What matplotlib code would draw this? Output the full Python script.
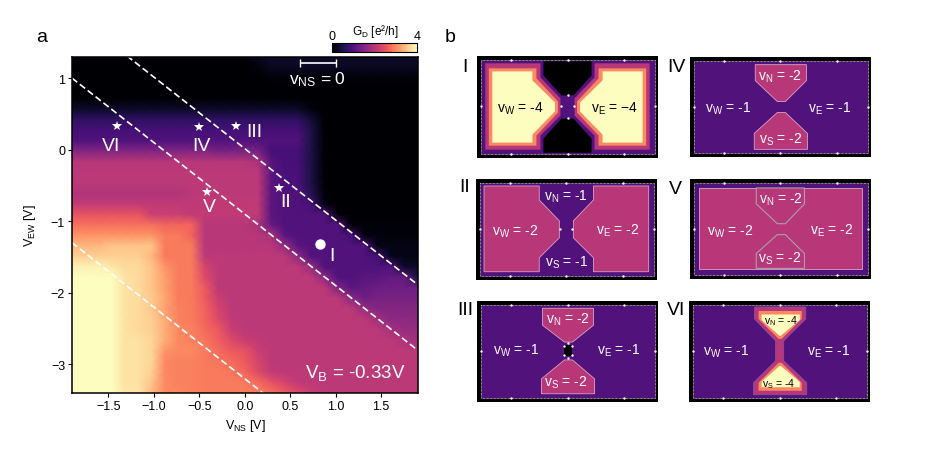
import matplotlib

matplotlib.use("Agg")
import matplotlib.pyplot as plt
import numpy as np

plt.rcParams["font.family"] = ["Liberation Sans", "DejaVu Sans"]
plt.rcParams["mathtext.fontset"] = "custom"
plt.rcParams["mathtext.rm"] = "Liberation Sans"
plt.rcParams["mathtext.default"] = "regular"

W, H = 927, 464

# conductance map (rows top to bottom, 27 columns)
v_ns = np.linspace(-1.9, 1.9, 27)
v_ew = np.linspace(1.3, -3.4, 33)
g_d = [
    [0.0] * 13 + [0.05, 0.2] + [0.3] * 12,
    [0.0] * 14 + [0.1] + [0.25] * 12,
    [0.0] * 15 + [0.05] * 12,
    [0.0] * 27,
    [0.02] * 18 + [0.0] * 9,
    [0.3] * 18 + [0.1] + [0.0] * 8,
    [0.7] * 18 + [0.4] + [0.0] * 8,
    [0.9] * 18 + [0.5] + [0.0] * 8,
    [1.0] * 18 + [0.5] + [0.0] * 8,
    [1.5] * 11 + [1.4] * 4 + [0.9] * 3 + [0.5] + [0.0] * 8,
    [2.0] * 14 + [1.9, 1.05, 0.9, 0.9, 0.5] + [0.0] * 8,
    [2.05] * 15 + [1.1, 0.95, 0.95, 0.5] + [0.0] * 8,
    [2.05] * 15 + [1.1, 0.95, 0.95, 0.5] + [0.0] * 8,
    [1.95] * 9 + [2.05] * 6 + [1.1, 1.0, 1.0, 0.6, 0.05] + [0.0] * 7,
    [2.1] * 15 + [1.1, 1.0, 1.0, 0.9, 0.1] + [0.0] * 7,
    [2.5] * 6 + [2.2] * 3 + [2.1] * 6 + [1.1, 1.0, 1.0, 1.0, 1.0, 0.05] + [0.0] * 6,
    [2.8] * 7 + [2.7] * 3 + [2.0] * 4 + [1.9, 1.2] + [1.0] * 5 + [0.05] * 6,
    [3.1] * 7 + [2.9, 2.9, 2.7] + [2.0] * 5 + [1.9, 1.1] + [1.0] * 4 + [0.9] + [0.1] * 5,
    [3.4] * 3 + [3.5] * 4 + [2.9] * 3 + [2.0] * 6 + [1.7, 1.1] + [1.0] * 5 + [0.15] * 4,
    [3.6] * 6 + [3.4] + [2.9] * 3 + [2.05] * 7 + [1.6] + [1.0] * 5 + [0.9, 0.2, 0.15, 0.15],
    [3.9] * 3 + [3.8, 3.7, 3.7, 3.5, 3.1, 2.9, 2.9, 2.3] + [2.05] * 7 + [1.7] + [1.0] * 6 + [0.3, 0.3],
    [4.0] * 4 + [3.75, 3.7, 3.5, 3.2, 2.9, 2.9, 2.4] + [2.05] * 8 + [1.6, 1.0, 1.0, 1.1, 1.1, 1.2, 1.2, 0.5],
    [4.0] * 4 + [3.75, 3.7, 3.5, 3.2, 2.9, 2.9, 2.6] + [2.05] * 9 + [1.5, 1.1, 1.2, 1.3, 1.3, 1.3, 1.3],
    [4.0] * 4 + [3.75, 3.7, 3.55, 3.25, 2.9, 2.9, 2.6, 2.2] + [2.05] * 9 + [1.6, 1.3, 1.4, 1.4, 1.4, 1.4],
    [4.0] * 4 + [3.75, 3.7, 3.55, 3.2, 2.95, 2.9, 2.7, 2.3] + [2.05] * 10 + [1.7, 1.5, 1.5, 1.5, 1.5],
    [4.0] * 4 + [3.75, 3.7, 3.6, 3.3, 2.95, 2.9, 2.7, 2.4, 2.1] + [2.05] * 10 + [1.8, 1.6, 1.6, 1.6],
    [4.0] * 4 + [3.75, 3.7, 3.6, 3.3, 3.0, 2.95, 2.75, 2.6, 2.2] + [2.05] * 11 + [1.85, 1.7, 1.7],
    [4.0] * 4 + [3.75, 3.75, 3.65, 3.3, 3.0, 2.95, 2.85, 2.65, 2.4, 2.2, 2.1] + [2.05] * 10 + [1.9, 1.8],
    [4.0] * 4 + [3.75, 3.75, 3.65, 3.1, 3.0, 3.0, 2.9, 2.75, 2.6, 2.5, 2.2] + [2.05] * 12,
    [4.0] * 4 + [3.75, 3.75, 3.65, 3.0, 2.95, 2.95, 2.9, 2.85, 2.75, 2.6, 2.3] + [2.05] * 12,
    [4.0] * 4 + [3.75, 3.75, 3.6, 3.0, 2.95, 2.95, 2.9, 2.9, 2.85, 2.7, 2.4, 2.1] + [2.05] * 11,
    [4.0] * 4 + [3.75, 3.75, 3.5, 3.0, 2.95, 2.95, 2.9, 2.9, 2.9, 2.9, 2.75, 2.5, 2.3, 2.1] + [2.05] * 9,
    [4.0] * 4 + [3.8, 3.8, 3.4, 3.0, 3.0, 2.95, 2.9, 2.9, 2.9, 2.9, 2.9, 2.8, 2.6, 2.4, 2.2, 2.05] + [2.05] * 7,
]

# dashed guide lines: V_EW = offset - V_NS
line_offsets = [0.015, -0.9, -3.2]
star_x = [-1.41, -0.5, -0.1, 0.38, -0.42]
star_y = [0.335, 0.32, 0.33, -0.54, -0.59]
state_labels = ["VI", "IV", "III", "II", "V", "I"]
state_label_x = [-1.47, -0.48, 0.1, 0.45, -0.385, 0.955]
state_label_y = [0.055, 0.055, 0.26, -0.725, -0.8, -1.485]

# gate outlines for the schematics, in pixels of a 180 x 101 panel
north_x = [65, 116, 116, 95, 87, 65]
north_y = [8, 8, 24, 45, 45, 24]
south_x = [64, 117, 117, 95, 87, 64]
south_y = [93, 93, 77, 56, 56, 77]
black_n_x = [66, 114, 114, 96, 84, 66]
black_n_y = [5, 5, 19, 39, 39, 19]
black_s_y = [96, 96, 82, 62, 62, 82]
west_x = [8, 63, 63, 83, 83, 63, 63, 8]
west_y = [7, 7, 21, 42, 59, 79, 93, 93]
west3_x = [11.5, 59, 59, 80.5, 80.5, 59, 59, 11.5]
west3_y = [12, 12, 22, 45, 56, 79, 89, 89]
west4_x = [15, 55, 55, 77.5, 77.5, 55, 55, 15]
west4_y = [15, 15, 24, 46, 55, 78, 86, 86]
hour_x = [65, 116, 116, 94, 94, 117, 117, 64, 64, 86, 86, 65]
hour_y = [6, 6, 18, 40, 60, 82, 94, 94, 82, 60, 40, 18]
cone3_x = [69, 112, 112, 92, 89, 69]
cone3_y = [10, 10, 18, 38, 38, 18]
cone4_x = [72, 110, 110, 91, 90, 72]
cone4_y = [13.5, 13.5, 19, 35, 35, 19]
center_dot_x = [84, 96, 90, 90]
center_dot_y = [50, 50, 39, 61]


def px_axes(fig, left, top, right, bottom):
    return fig.add_axes(
        [left / W, 1 - bottom / H, (right - left) / W, (bottom - top) / H]
    )


def mirror(xs):
    return [180 - x for x in xs]


def gate(ax, xs, ys, level, edge=None, lw=0.6):
    face = "black" if level == 0 else plt.cm.magma(level / 4)
    ax.fill(xs, ys, facecolor=face, edgecolor=edge or "none", linewidth=lw, zorder=2)


def v_label(ax, x, y, name, value, color="white", size=10):
    ax.text(x, y, f"v$_{{{name}}}$ = {value}", color=color, fontsize=size,
            ha="center", va="center", zorder=6)


def panel(fig, box, name, name_x, name_y, base, inset=(3.5, 4, 177, 97)):
    ax = px_axes(fig, *box)
    ax.set_xlim(0, 180)
    ax.set_ylim(101, 0)
    ax.set_facecolor("black")
    ax.set_xticks([])
    ax.set_yticks([])
    for s in ax.spines.values():
        s.set_visible(False)
    x0, y0, x1, y1 = inset
    ax.fill([x0, x1, x1, x0], [y0, y0, y1, y1], facecolor=plt.cm.magma(base / 4),
            edgecolor="white", linewidth=0.5, linestyle=(0, (1, 1)), zorder=1)
    # contact dots along the edge
    ax.scatter([34, 90, 146, 34, 90, 146, x0, x1], [y0, y0, y0, y1, y1, y1, 50, 50],
               s=3, color="white", linewidths=0, zorder=5)
    fig.text(name_x / W, 1 - name_y / H, name, fontsize=14, ha="center", va="center")
    return ax


fig = plt.figure(figsize=(W / 100, H / 100), dpi=100)

# panel a
ax = px_axes(fig, 72, 58, 417.5, 394)
mesh = ax.pcolormesh(v_ns, v_ew, np.array(g_d), cmap="magma", vmin=0, vmax=4,
                     shading="gouraud", rasterized=True)
xs = np.array([-1.9, 1.9])
for off in line_offsets:
    ax.plot(xs, off - xs, color="white", lw=1.2, ls=(0, (4, 2)))
ax.plot(star_x, star_y, ls="none", marker="*", ms=7.5, color="white", mew=0)
ax.plot([0.83], [-1.32], ls="none", marker="o", ms=7.5, color="white", mew=0)
for lab, x, y in zip(state_labels, state_label_x, state_label_y):
    ax.text(x, y, lab, color="white", fontsize=14, ha="center", va="center")
ax.errorbar([0.805], [1.205], xerr=[0.195], color="white", lw=1.2, capsize=3, capthick=1)
ax.text(0.8, 0.99, "v$_{NS}$ = 0", color="white", fontsize=12.5, ha="center", va="center")
ax.text(1.21, -3.1, "V$_{B}$ = -0.33V", color="white", fontsize=13.5, ha="center", va="center")
ax.set_xlim(-1.9, 1.9)
ax.set_ylim(-3.4, 1.295)
ax.set_xticks([-1.5, -1.0, -0.5, 0.0, 0.5, 1.0, 1.5])
ax.set_yticks([-3, -2, -1, 0, 1])
ax.tick_params(labelsize=9, length=3, width=0.8, pad=2)
for s in ax.spines.values():
    s.set_linewidth(1.1)
fig.text(245 / W, 1 - 426 / H, "V$_{NS}$ [V]", fontsize=9, ha="center", va="center")
fig.text(30 / W, 1 - 226 / H, "V$_{EW}$ [V]", fontsize=9, rotation=90, ha="center", va="center")

# colour bar
cax = px_axes(fig, 332, 44, 417, 53)
cb = fig.colorbar(mesh, cax=cax, orientation="horizontal")
cb.set_ticks([0, 4])
cax.xaxis.set_ticks_position("top")
cax.tick_params(labelsize=9, length=0, pad=1)
cb.outline.set_linewidth(0.8)
fig.text(375 / W, 1 - 32 / H, "G$_{D}$ [e²/h]", fontsize=8.5, ha="center", va="center")

fig.text(42 / W, 1 - 37 / H, "a", fontsize=14, ha="center", va="center")
fig.text(450 / W, 1 - 37 / H, "b", fontsize=14, ha="center", va="center")

# panel b
p = panel(fig, (477.3, 57.3, 657.7, 158.7), "I", 465, 67, 1)
gate(p, black_n_x, black_n_y, 0)
gate(p, black_n_x, black_s_y, 0)
for sx, sy, level in [(west_x, west_y, 2), (west3_x, west3_y, 3), (west4_x, west4_y, 4)]:
    gate(p, sx, sy, level)
    gate(p, mirror(sx), sy, level)
p.scatter(center_dot_x, center_dot_y, s=3, color="white", linewidths=0, zorder=5)
v_label(p, 90, 14, "N", "0", "black")
v_label(p, 90, 88, "S", "0", "black")
v_label(p, 43, 51, "W", "-4", "black")
v_label(p, 137, 51, "E", "−4", "black")

p = panel(fig, (476, 180, 656.7, 280.7), "II", 465, 188, 1)
gate(p, west_x, west_y, 2, "#d9a3c4")
gate(p, mirror(west_x), west_y, 2, "#d9a3c4")
p.scatter(center_dot_x[:2], center_dot_y[:2], s=3, color="white", linewidths=0, zorder=5)
v_label(p, 90, 17, "N", "-1")
v_label(p, 90, 83, "S", "-1")
v_label(p, 39, 52, "W", "-2")
v_label(p, 141, 51, "E", "-2")

p = panel(fig, (477.3, 302.3, 657.7, 402.7), "III", 465, 311, 1)
gate(p, north_x, [7, 7, 24, 41, 41, 24], 2, "#d9a3c4")
gate(p, south_x, [93, 93, 78, 59, 59, 78], 2, "#d9a3c4")
gate(p, [87, 94, 94, 87], [44, 44, 55, 55], 0)
p.scatter([87, 94, 87, 94, 90.5, 90.5], [45, 45, 54, 54, 42, 57], s=3, color="white",
          linewidths=0, zorder=5)
v_label(p, 91, 18, "N", "-2")
v_label(p, 88, 81, "S", "-2")
v_label(p, 39, 49, "W", "-1")
v_label(p, 141, 49, "E", "-1")

p = panel(fig, (690, 57.7, 870.7, 158.3), "IV", 676, 67, 1)
gate(p, north_x, north_y, 2, "#d9a3c4")
gate(p, south_x, south_y, 2, "#d9a3c4")
v_label(p, 90, 19, "N", "-2")
v_label(p, 90, 82, "S", "-2")
v_label(p, 38, 51, "W", "-1")
v_label(p, 139, 51, "E", "-1")

p = panel(fig, (690, 180, 870.7, 280.3), "V", 675, 189, 1)
gate(p, [9.3, 171.7, 171.7, 9.3], [9, 9, 90.7, 90.7], 2, "#d9a3c4")
gate(p, [66, 114, 114, 95, 87, 66], [9, 9, 25, 45, 45, 25], 2, "#a8a0a8", 0.8)
gate(p, [66, 114, 114, 95, 87, 66], [90, 90, 75, 56, 56, 75], 2, "#a8a0a8", 0.8)
v_label(p, 91, 20, "N", "-2")
v_label(p, 89, 79, "S", "-2")
v_label(p, 40, 52, "W", "-2")
v_label(p, 141, 51, "E", "-2")

p = panel(fig, (689.3, 302, 870, 402.7), "VI", 676, 311, 1)
gate(p, hour_x, hour_y, 2, "#8a4fa0")
gate(p, cone3_x, cone3_y, 3)
gate(p, cone3_x, [100 - y for y in cone3_y], 3)
gate(p, cone4_x, cone4_y, 4)
gate(p, cone4_x, [100 - y for y in cone4_y], 4)
v_label(p, 91, 19, "N", "-4", "black", 7.5)
v_label(p, 89, 82, "S", "-4", "black", 7.5)
v_label(p, 37, 50, "W", "-1")
v_label(p, 139, 50, "E", "-1")

fig.savefig("out.png", dpi=100)
